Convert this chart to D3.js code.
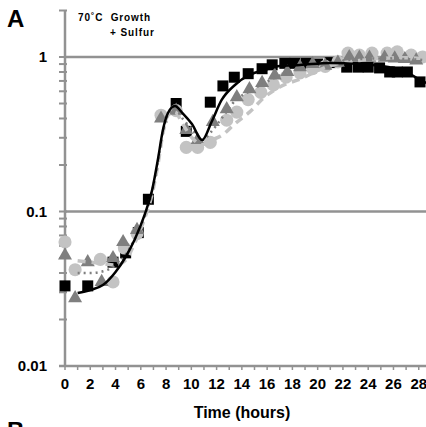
<!DOCTYPE html>
<html>
<head>
<meta charset="utf-8">
<script src="https://cdn.jsdelivr.net/npm/d3@7.9.0/dist/d3.min.js"></script>
<style>
  html, body { margin: 0; padding: 0; background: #fff; }
  svg { display: block; font-family: "Liberation Sans", Arial, sans-serif; font-weight: bold; }
</style>
</head>
<body>
<svg id="chart" width="426" height="427"></svg>
<script>
// culture 1: black squares
const sqTime = [0, 1.8, 3.8, 4.8, 5.8, 6.6, 8.8, 9.6, 11.5, 12.5, 13.4, 14.5, 15.6, 16.4, 17.4, 18.2, 19.1, 20.0, 21.0, 22.3, 23.2, 24.0, 24.9, 25.7, 26.3, 27.1, 28.1];
const sqOD = [0.033, 0.033, 0.047, 0.054, 0.073, 0.12, 0.50, 0.33, 0.51, 0.65, 0.74, 0.78, 0.84, 0.89, 0.91, 0.91, 0.91, 0.90, 0.92, 0.86, 0.86, 0.86, 0.85, 0.80, 0.80, 0.80, 0.69];

// culture 2: gray triangles
const triTime = [0, 0.8, 1.8, 2.9, 3.8, 4.6, 5.7, 7.6, 8.8, 9.6, 10.5, 11.7, 12.8, 13.6, 14.6, 15.6, 16.6, 17.6, 18.6, 19.6, 20.6, 21.6, 22.5, 23.3, 24.1, 25.3, 26.1, 26.9, 27.8];
const triOD = [0.052, 0.0275, 0.047, 0.035, 0.050, 0.0635, 0.076, 0.40, 0.45, 0.337, 0.29, 0.38, 0.46, 0.55, 0.62, 0.68, 0.76, 0.80, 0.86, 0.90, 0.88, 0.92, 1.0, 0.99, 0.99, 0.99, 0.98, 0.97, 0.95];

// culture 3: light gray circles
const circTime = [0, 0.8, 2.8, 3.8, 4.7, 5.7, 7.6, 8.8, 9.6, 10.5, 11.5, 12.8, 13.6, 14.5, 15.5, 16.5, 17.5, 18.6, 19.6, 20.6, 21.6, 22.4, 23.3, 24.3, 25.5, 26.3, 27.4, 28.3];
const circOD = [0.0635, 0.042, 0.049, 0.035, 0.058, 0.072, 0.42, 0.45, 0.26, 0.26, 0.28, 0.39, 0.44, 0.53, 0.59, 0.66, 0.74, 0.79, 0.84, 0.87, 0.93, 1.06, 1.03, 1.06, 1.06, 1.08, 1.03, 1.0];

// smoothed trend for each culture
const fitTime = [1, 2, 3, 4, 4.75, 5.5, 6.3, 6.9, 7.35, 7.75, 8.15, 8.7, 9.3, 10.05, 10.85, 11.6, 12.4, 13.45, 14.6, 15.8, 17, 18.6, 21, 23.3, 25.7, 26.9, 28.1, 28.6];
const sqFit = [0.0297, 0.031, 0.0334, 0.0406, 0.050, 0.0654, 0.095, 0.138, 0.216, 0.337, 0.434, 0.482, 0.434, 0.368, 0.29, 0.38, 0.527, 0.659, 0.765, 0.824, 0.874, 0.888, 0.915, 0.90, 0.86, 0.81, 0.71, 0.68];
const triFit = [0.040, 0.040, 0.041, 0.045, 0.052, 0.066, 0.093, 0.135, 0.21, 0.33, 0.42, 0.46, 0.40, 0.34, 0.29, 0.33, 0.40, 0.52, 0.60, 0.68, 0.76, 0.84, 0.92, 0.97, 0.98, 0.97, 0.96, 0.95];
const circFit = [0.048, 0.047, 0.046, 0.045, 0.048, 0.062, 0.09, 0.13, 0.20, 0.32, 0.42, 0.44, 0.37, 0.30, 0.27, 0.29, 0.31, 0.37, 0.44, 0.55, 0.64, 0.72, 0.88, 0.95, 0.985, 0.99, 0.98, 0.97];

const xLabels = d3.range(0, 29, 2);
const yLabels = [0.01, 0.1, 1];

const axisGray = '#929292';

const svg = d3.select('#chart');

const x = d3.scaleLinear().domain([0, 30]).range([65, 444]);
const y = d3.scaleLog().domain([0.01, 2]).range([366, 10.5]);

// gridlines at each decade above the floor
svg.append('g')
  .selectAll('line')
  .data([0.1, 1])
  .join('line')
  .attr('x1', x(0)).attr('x2', 426)
  .attr('y1', d => y(d)).attr('y2', d => y(d))
  .attr('stroke', axisGray)
  .attr('stroke-width', 2.5);

// y axis with log minor ticks
const minor = [];
[0.01, 0.1, 1].forEach(p => {
  for (let k = 1; k <= 9; k++) {
    const v = p * k;
    if (v <= 2) minor.push(v);
  }
});
svg.append('g')
  .selectAll('line')
  .data(minor)
  .join('line')
  .attr('x1', 59).attr('x2', 67)
  .attr('y1', d => y(d)).attr('y2', d => y(d))
  .attr('stroke', axisGray)
  .attr('stroke-width', 2);

svg.append('line')
  .attr('x1', x(0)).attr('x2', x(0))
  .attr('y1', y(2)).attr('y2', y(0.01))
  .attr('stroke', axisGray)
  .attr('stroke-width', 2.5);

// x axis: line plus hourly ticks
svg.append('line')
  .attr('x1', x(0) - 6).attr('x2', 426)
  .attr('y1', y(0.01)).attr('y2', y(0.01))
  .attr('stroke', axisGray)
  .attr('stroke-width', 2.5);

svg.append('g')
  .selectAll('line')
  .data(d3.range(0, 30, 1))
  .join('line')
  .attr('x1', d => x(d)).attr('x2', d => x(d))
  .attr('y1', y(0.01)).attr('y2', y(0.01) + 4)
  .attr('stroke', axisGray)
  .attr('stroke-width', 1.5);

svg.append('g')
  .selectAll('text')
  .data(xLabels)
  .join('text')
  .attr('x', d => x(d))
  .attr('y', 389)
  .attr('text-anchor', 'middle')
  .attr('font-size', 15)
  .text(d => d);

svg.append('g')
  .selectAll('text')
  .data(yLabels)
  .join('text')
  .attr('x', 47)
  .attr('y', d => y(d))
  .attr('dy', '0.35em')
  .attr('text-anchor', 'end')
  .attr('font-size', 15)
  .text(d => d);

svg.append('text')
  .attr('x', 242).attr('y', 418)
  .attr('text-anchor', 'middle')
  .attr('font-size', 16)
  .text('Time (hours)');

// panel letters and condition label; the next panel's letter starts at the bottom edge
svg.append('text').attr('x', 7).attr('y', 27).attr('font-size', 24).text('A');
svg.append('text').attr('x', 7).attr('y', 439).attr('font-size', 24).text('B');
svg.append('text').attr('x', 78).attr('y', 21).attr('font-size', 10)
  .attr('letter-spacing', 0.9).attr('xml:space', 'preserve').text('70˚C  Growth');
svg.append('text').attr('x', 110).attr('y', 36).attr('font-size', 10)
  .attr('letter-spacing', 0.9).text('+ Sulfur');

// markers
function drawMarkers(times, values, shape, size, color) {
  const sym = d3.symbol().type(shape).size(size);
  svg.append('g')
    .selectAll('path')
    .data(times.map((t, i) => [t, values[i]]))
    .join('path')
    .attr('transform', d => `translate(${x(d[0])},${y(d[1])})`)
    .attr('d', sym)
    .attr('fill', color);
}

drawMarkers(sqTime, sqOD, d3.symbolSquare, 121, '#000');
drawMarkers(circTime, circOD, d3.symbolCircle, 135, '#c3c3c3');
drawMarkers(triTime, triOD, d3.symbolTriangle, 85, '#7f7f7f');

// trend lines
const line = vals => d3.line()
  .x((t, i) => x(t))
  .y((t, i) => y(vals[i]))
  .curve(d3.curveMonotoneX)(fitTime);

svg.append('path').attr('d', line(circFit))
  .attr('fill', 'none').attr('stroke', '#c3c3c3')
  .attr('stroke-width', 3.5).attr('stroke-dasharray', '8,6');

svg.append('path').attr('d', line(triFit))
  .attr('fill', 'none').attr('stroke', '#7f7f7f')
  .attr('stroke-width', 2.5).attr('stroke-dasharray', '2,4');

svg.append('path').attr('d', line(sqFit))
  .attr('fill', 'none').attr('stroke', '#000')
  .attr('stroke-width', 2.5);
</script>
</body>
</html>
